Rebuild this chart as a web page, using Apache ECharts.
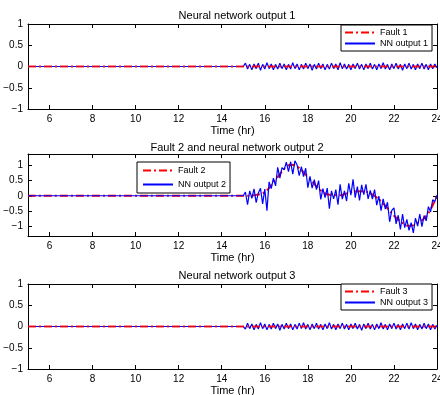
<!DOCTYPE html>
<html>
<head>
<meta charset="utf-8">
<script src="https://cdn.jsdelivr.net/npm/echarts@6/dist/echarts.min.js"></script>
<style>
  html, body { margin: 0; padding: 0; background: #fff; }
  #chart { width: 440px; height: 395px; }
</style>
</head>
<body>
<div id="chart"></div>
<script>
// time base (hr)
const tStart = [5, 15];
const tFaultFlat = [5, 24];
const tNoise = [
  15.0, 15.1, 15.2, 15.3, 15.4, 15.5, 15.6, 15.7, 15.8, 15.9,
  16.0, 16.1, 16.2, 16.3, 16.4, 16.5, 16.6, 16.7, 16.8, 16.9,
  17.0, 17.1, 17.2, 17.3, 17.4, 17.5, 17.6, 17.7, 17.8, 17.9,
  18.0, 18.1, 18.2, 18.3, 18.4, 18.5, 18.6, 18.7, 18.8, 18.9,
  19.0, 19.1, 19.2, 19.3, 19.4, 19.5, 19.6, 19.7, 19.8, 19.9,
  20.0, 20.1, 20.2, 20.3, 20.4, 20.5, 20.6, 20.7, 20.8, 20.9,
  21.0, 21.1, 21.2, 21.3, 21.4, 21.5, 21.6, 21.7, 21.8, 21.9,
  22.0, 22.1, 22.2, 22.3, 22.4, 22.5, 22.6, 22.7, 22.8, 22.9,
  23.0, 23.1, 23.2, 23.3, 23.4, 23.5, 23.6, 23.7, 23.8, 23.9,
  24.0
];

// fault signals
const fault1Vals = [0, 0];
const fault3Vals = [0, 0];
const fault2Time = [5, 15, 15.5, 16, 16.5, 17, 17.25, 17.5, 18, 18.5, 19, 19.5, 20, 20.5, 21, 21.5, 22, 22.5, 22.75, 23, 23.5, 24];
const fault2Vals = [0, 0, 0.02, 0.12, 0.52, 0.94, 1.0, 0.95, 0.61, 0.24, 0.03, 0.02, 0.12, 0.15, 0.04, -0.25, -0.64, -0.93, -0.97, -0.92, -0.66, 0];

// neural network outputs (before 15 hr they sit at zero)
const nnStartVals = [0, 0];
const nn1Vals = [
  0.00, 0.08, -0.06, 0.05, -0.08, 0.06, -0.05, 0.08, -0.09, 0.05,
  -0.06, 0.09, -0.05, 0.06, -0.08, 0.05, -0.06, 0.08, -0.05, 0.06,
  -0.08, 0.05, -0.06, 0.09, -0.05, 0.06, -0.08, 0.05, -0.06, 0.08,
  -0.05, 0.06, -0.09, 0.05, -0.06, 0.08, -0.05, 0.06, -0.08, 0.05,
  -0.06, 0.08, -0.05, 0.06, -0.08, 0.09, -0.05, 0.06, -0.06, 0.05,
  -0.08, 0.06, -0.05, 0.08, -0.06, 0.05, -0.08, 0.06, -0.05, 0.08,
  -0.06, 0.05, -0.08, 0.06, -0.05, 0.09, -0.06, 0.05, -0.08, 0.06,
  -0.05, 0.08, -0.06, 0.05, -0.09, 0.06, -0.05, 0.08, -0.06, 0.05,
  -0.08, 0.06, -0.05, 0.08, -0.06, 0.05, -0.08, 0.06, -0.05, 0.06,
  -0.03
];
const nn2Vals = [
  0.00, 0.12, -0.29, 0.16, -0.08, 0.22, -0.22, 0.09, 0.24, -0.26,
  0.22, -0.48, 0.45, 0.23, 0.57, 0.32, 0.92, 0.57, 0.91, 0.84,
  1.09, 0.78, 1.10, 0.70, 1.13, 1.00, 0.65, 0.94, 0.62, 0.89,
  0.26, 0.63, 0.25, 0.52, 0.20, 0.49, -0.12, 0.23, -0.06, 0.25,
  -0.42, 0.16, -0.10, 0.20, -0.29, 0.37, -0.11, 0.16, -0.17, 0.40,
  0.02, 0.53, -0.06, 0.30, -0.15, 0.35, 0.04, 0.37, -0.10, 0.17,
  -0.11, 0.20, -0.30, -0.01, -0.48, -0.10, -0.43, -0.21, -0.84, -0.47,
  -0.39, -0.91, -0.63, -1.09, -0.59, -1.03, -0.76, -1.12, -0.87, -1.20,
  -0.72, -0.98, -0.59, -1.00, -0.64, -0.81, -0.35, -0.52, -0.13, -0.19,
  0.02
];
const nn3Vals = [
  0.00, -0.06, 0.08, -0.05, 0.06, -0.08, 0.05, -0.06, 0.09, -0.05,
  0.06, -0.08, 0.05, -0.06, 0.08, -0.05, 0.06, -0.09, 0.05, -0.06,
  0.08, -0.05, 0.06, -0.08, 0.05, -0.06, 0.08, -0.05, 0.09, -0.06,
  0.05, -0.08, 0.06, -0.05, 0.08, -0.06, 0.05, -0.08, 0.06, -0.05,
  0.09, -0.06, 0.05, -0.08, 0.06, -0.05, 0.08, -0.06, 0.05, -0.08,
  0.06, -0.05, 0.08, -0.06, 0.05, -0.09, 0.06, -0.05, 0.08, -0.06,
  0.05, -0.08, 0.06, -0.05, 0.09, -0.06, 0.05, -0.08, 0.06, -0.05,
  0.08, -0.06, 0.05, -0.08, 0.06, -0.05, 0.08, -0.06, 0.09, -0.05,
  0.06, -0.08, 0.05, -0.06, 0.08, -0.05, 0.06, -0.08, 0.05, -0.06,
  0.03
];

// ticks
const xTicks = [6, 8, 10, 12, 14, 16, 18, 20, 22, 24];
const yTicks = [-1, -0.5, 0, 0.5, 1];

const titles = ['Neural network output 1', 'Fault 2 and neural network output 2', 'Neural network output 3'];
const faultNames = ['Fault 1', 'Fault 2', 'Fault 3'];
const nnNames = ['NN output 1', 'NN output 2', 'NN output 3'];

const FONT = '"Liberation Sans", Arial, Helvetica, sans-serif';
const RED = '#ff0000';
const BLUE = '#0000ff';
const DASHDOT = [8, 3, 2, 3];

function pairs(ts, vs) {
  return ts.map((t, i) => [t, vs[i]]);
}
function fmtY(v) {
  return v < 0 ? '\u2212' + (-v) : String(v);
}

const grids = [
  { left: 28, top: 24, width: 409, height: 85, outerBoundsMode: 'none' },
  { left: 28, top: 154, width: 409, height: 82, outerBoundsMode: 'none' },
  { left: 28, top: 284, width: 409, height: 85, outerBoundsMode: 'none' },
];
const yRanges = [[-1, 1], [-1.3, 1.35], [-1, 1]];
const legendPos = [
  { left: 341, top: 25, gap: 2, pad: [3, 4, 3, 3] },
  { left: 137, top: 162, gap: 5, pad: [4, 4, 4, 5] },
  { left: 341, top: 284, gap: 2, pad: [3, 4, 3, 3] },
];
const titleTops = [5, 137, 265];

const faultData = [
  pairs(tFaultFlat, fault1Vals),
  pairs(fault2Time, fault2Vals),
  pairs(tFaultFlat, fault3Vals),
];
const nnData = [
  pairs(tStart, nnStartVals).concat(pairs(tNoise, nn1Vals)),
  pairs(tStart, nnStartVals).concat(pairs(tNoise, nn2Vals)),
  pairs(tStart, nnStartVals).concat(pairs(tNoise, nn3Vals)),
];

const axisLine = { show: true, onZero: false, lineStyle: { color: '#000', width: 1 } };
const xAxis = [], yAxis = [], series = [], legend = [], title = [];

grids.forEach((g, i) => {
  xAxis.push({
    type: 'value', gridIndex: i, min: 5, max: 24, position: 'bottom',
    axisLine,
    axisTick: { show: true, inside: true, length: 4, customValues: xTicks, lineStyle: { color: '#000' } },
    axisLabel: { show: true, customValues: xTicks, margin: 5, color: '#000', fontSize: 10, fontFamily: FONT },
    splitLine: { show: false },
    name: 'Time (hr)', nameLocation: 'middle', nameGap: 16,
    nameTextStyle: { color: '#000', fontSize: 11, fontFamily: FONT },
  });
  xAxis.push({
    type: 'value', gridIndex: i, min: 5, max: 24, position: 'top',
    axisLine,
    axisTick: { show: true, inside: true, length: 4, customValues: xTicks, lineStyle: { color: '#000' } },
    axisLabel: { show: false },
    splitLine: { show: false },
  });
  yAxis.push({
    type: 'value', gridIndex: i, min: yRanges[i][0], max: yRanges[i][1], position: 'left',
    axisLine,
    axisTick: { show: true, inside: true, length: 4, customValues: yTicks, lineStyle: { color: '#000' } },
    axisLabel: { show: true, customValues: yTicks, margin: 5, color: '#000', fontSize: 10, fontFamily: FONT, formatter: fmtY },
    splitLine: { show: false },
  });
  yAxis.push({
    type: 'value', gridIndex: i, min: yRanges[i][0], max: yRanges[i][1], position: 'right',
    axisLine,
    axisTick: { show: true, inside: true, length: 4, customValues: yTicks, lineStyle: { color: '#000' } },
    axisLabel: { show: false },
    splitLine: { show: false },
  });

  const faultSeries = {
    name: faultNames[i], type: 'line', xAxisIndex: 2 * i, yAxisIndex: 2 * i,
    data: faultData[i], symbol: 'none', smooth: i === 1 ? 0.4 : false,
    lineStyle: { color: RED, width: 2, type: DASHDOT, opacity: i === 1 ? 1 : 0.85 },
    itemStyle: { color: RED },
    z: i === 1 ? 2 : 4,
  };
  const nnSeries = {
    name: nnNames[i], type: 'line', xAxisIndex: 2 * i, yAxisIndex: 2 * i,
    data: nnData[i], symbol: 'none',
    lineStyle: { color: BLUE, width: 1.2 },
    itemStyle: { color: BLUE },
    z: 3,
  };
  series.push(faultSeries, nnSeries);

  const lp = legendPos[i];
  legend.push({
    data: [faultNames[i], nnNames[i]],
    orient: 'vertical',
    left: lp.left, top: lp.top,
    itemWidth: 30, itemHeight: 8, itemGap: lp.gap,
    padding: lp.pad,
    borderColor: '#000', borderWidth: 1, borderRadius: 0,
    backgroundColor: '#fff',
    itemStyle: { opacity: 0 },
    lineStyle: { opacity: 1 },
    textStyle: { color: '#000', fontSize: 9, fontFamily: FONT },
    selectedMode: false,
  });

  title.push({
    text: titles[i],
    left: 232, top: titleTops[i], textAlign: 'center',
    textStyle: { color: '#000', fontSize: 11, fontWeight: 'normal', fontFamily: FONT },
  });
});

const chart = echarts.init(document.getElementById('chart'));
chart.setOption({
  animation: false,
  backgroundColor: '#fff',
  title, grid: grids, xAxis, yAxis, legend, series,
});
</script>
</body>
</html>
